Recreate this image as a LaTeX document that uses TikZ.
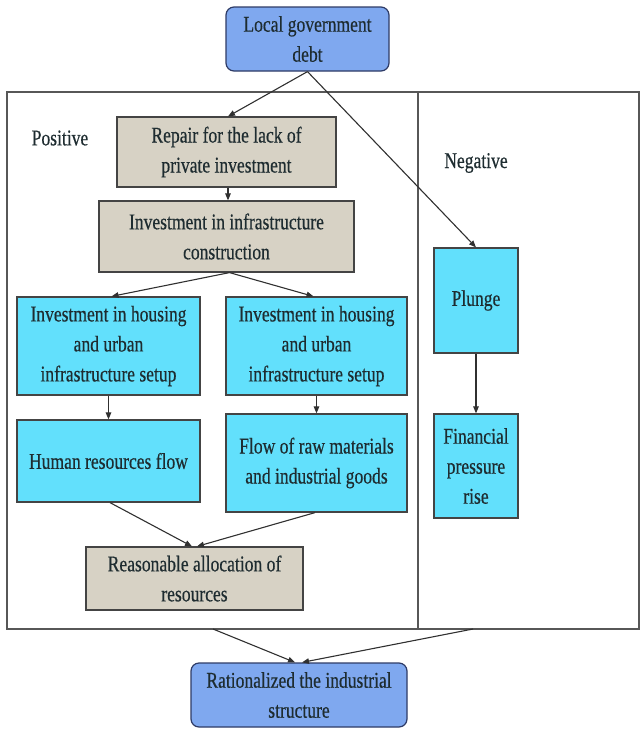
\documentclass[tikz,border=0pt]{standalone}
\usepackage{fontspec}
\setmainfont{Liberation Serif}[FakeStretch=0.78,FakeBold=0.4]
\usetikzlibrary{arrows.meta,calc}
\definecolor{debtblue}{HTML}{7FA8EF}
\definecolor{debtedge}{HTML}{2E3B66}
\definecolor{sandgray}{HTML}{D7D2C5}
\definecolor{skycyan}{HTML}{62E0FC}
\definecolor{edgegray}{HTML}{444444}
\definecolor{inkgray}{HTML}{303030}
\definecolor{textdark}{HTML}{1E2C30}
\begin{document}
\begin{tikzpicture}[x=1pt,y=-1pt,
  every node/.style={font=\fontsize{22.5}{30}\selectfont, text=textdark, align=center, inner sep=0pt},
  roundbox/.style={draw=debtedge, fill=debtblue, line width=1.2pt, rounded corners=8pt},
  graybox/.style={draw=edgegray, fill=sandgray, line width=1.2pt},
  cyanbox/.style={draw=edgegray, fill=skycyan, line width=1.2pt},
  link/.style={draw=inkgray, line width=1.1pt, -{Triangle[length=7pt,width=5.5pt]}},
  frameline/.style={draw=edgegray!90, line width=1.2pt}]
\useasboundingbox (0,0) rectangle (641,729);

% outer frame and the divider between the two effects
\draw[frameline] (7,92) rectangle (639,629);
\draw[frameline] (418,92) -- (418,629);
\node (pos) at (60,138) {Positive};
\node (neg) at (476,163) {Negative};

% boxes
\node[roundbox, minimum width=163pt, minimum height=64pt] (debt) at (307.5,39) {Local government\\debt};
\node[graybox, minimum width=219pt, minimum height=70pt] (repair) at (226.5,152) {Repair for the lack of\\private investment};
\node[graybox, minimum width=255pt, minimum height=71pt] (infra) at (226.5,236.5) {Investment in infrastructure\\construction};
\node[cyanbox, minimum width=183pt, minimum height=98pt] (lhouse) at (108.5,346) {Investment in housing\\and urban\\infrastructure setup};
\node[cyanbox, minimum width=181pt, minimum height=98pt] (rhouse) at (316.5,346) {Investment in housing\\and urban\\infrastructure setup};
\node[cyanbox, minimum width=183pt, minimum height=82pt] (human) at (108.5,461) {Human resources flow};
\node[cyanbox, minimum width=181pt, minimum height=98pt] (flow) at (316.5,463) {Flow of raw materials\\and industrial goods};
\node[cyanbox, minimum width=84pt, minimum height=105pt] (plunge) at (476,300.5) {Plunge};
\node[cyanbox, minimum width=84pt, minimum height=104pt] (fin) at (476,466) {Financial\\pressure\\rise};
\node[graybox, minimum width=217pt, minimum height=63pt] (reason) at (194.5,578.5) {Reasonable allocation of\\resources};
\node[roundbox, minimum width=216pt, minimum height=64pt] (final) at (299,695) {Rationalized the industrial\\structure};

% free ends on the lower edge of the frame
\coordinate (posout) at (213,629);
\coordinate (negout) at (473,629);

% connectors
\draw[link] (debt.south) -- ($(repair.north)+(1.5,0)$);
\draw[link] (debt.south) -- (plunge.north);
\draw[link] ($(repair.south)+(1.5,0)$) -- ($(infra.north)+(1.5,0)$);
\draw[link] ($(infra.south)+(3,0)$) -- ($(lhouse.north)+(3,0)$);
\draw[link] ($(infra.south)+(3,0)$) -- ($(rhouse.north)+(-3,0)$);
\draw[link] (lhouse.south) -- (human.north);
\draw[link] (rhouse.south) -- (flow.north);
\draw[link] (plunge.south) -- (fin.north);
\draw[link] ($(human.south)+(1.5,0)$) -- ($(reason.north)+(-2.5,0)$);
\draw[link] ($(flow.south)+(-1.5,0)$) -- ($(reason.north)+(2.5,0)$);
\draw[link] (posout) -- ($(final.north)+(-4,0)$);
\draw[link] (negout) -- ($(final.north)+(3,0)$);
\end{tikzpicture}
\end{document}
